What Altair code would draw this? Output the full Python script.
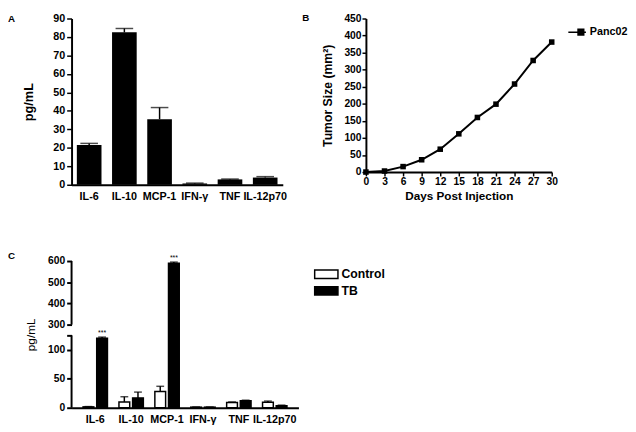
import altair as alt
import pandas as pd

FONT = "Liberation Sans"

# ---------------- data ----------------
cytokines = ["IL-6", "IL-10", "MCP-1", "IFN-γ", "TNF", "IL-12p70"]
a_mean = [21.5, 82.5, 35.5, 0.7, 2.9, 3.9]
a_upper = [22.4, 84.6, 41.8, 0.9, 3.1, 4.4]

days = [0, 3, 6, 9, 12, 15, 18, 21, 24, 27, 30]
tumor_size = [0, 3, 16, 36, 67, 112, 160, 199, 258, 327, 381]

groups = ["Control", "TB"]
c_control_mean = [1.5, 10, 28, 1, 9, 9.5]
c_control_upper = [2, 19, 37, 1.3, 10, 11.5]
c_tb_mean = [120, 17, 590, 1, 12, 3.5]
c_tb_upper = [122, 27, 595, 1.3, 13, 4.5]
c_tb_stars = ["***", "", "***", "", "", ""]

a_ticks = [0, 10, 20, 30, 40, 50, 60, 70, 80, 90]
b_yticks = [0, 50, 100, 150, 200, 250, 300, 350, 400, 450]
c_ticks = [0, 50, 100, 125, 300, 400, 500, 600]
c_break_lo = [0, 300]
c_break_hi = [125, 600]

# ---------------- tables ----------------
dfA = pd.DataFrame({"cytokine": cytokines, "mean": a_mean, "upper": a_upper})
dfB = pd.DataFrame({"day": days, "size": tumor_size, "series": ["Panc02"] * len(days)})
rows = []
for i, c in enumerate(cytokines):
    rows.append({"cytokine": c, "group": "Control", "mean": c_control_mean[i],
                 "upper": c_control_upper[i], "star": ""})
    rows.append({"cytokine": c, "group": "TB", "mean": c_tb_mean[i],
                 "upper": c_tb_upper[i], "star": c_tb_stars[i]})
dfC = pd.DataFrame(rows)
dfSeg = pd.DataFrame({"lo": c_break_lo, "hi": c_break_hi})

axis_common = dict(labelFont=FONT, labelFontWeight="bold", labelColor="black",
                   titleFont=FONT, titleColor="black", domainColor="black",
                   tickColor="black", grid=False, labelOverlap=False, labelFlush=False)


def letter(t, dx, dy):
    return alt.Chart(pd.DataFrame({"t": [t]})).mark_text(
        font=FONT, fontWeight="bold", fontSize=10, align="left", baseline="top",
        color="black").encode(text="t:N", x=alt.value(dx), y=alt.value(dy))


# ---------------- panel A ----------------
scaleXA = alt.Scale(paddingInner=0.3, paddingOuter=0.15)
axisXA = alt.Axis(labelAngle=0, ticks=False, domainWidth=2, labelFontSize=11,
                  labelPadding=6, **axis_common)
scaleYA = alt.Scale(domain=[0, 90], nice=False)
axisYA = alt.Axis(values=a_ticks, tickSize=5, tickWidth=1.5, domainWidth=2,
                  labelFontSize=11, labelPadding=2, titleFontSize=13,
                  titleFontWeight="bold", titlePadding=18, **axis_common)


def xA():
    return alt.X("cytokine:N", sort=cytokines, title=None, scale=scaleXA, axis=axisXA)


def yA(field):
    return alt.Y(field, title="pg/mL", scale=scaleYA, axis=axisYA)


barsA = alt.Chart(dfA).mark_bar(color="black").encode(x=xA(), y=yA("mean:Q"))
errA = alt.Chart(dfA).mark_rule(color="black", strokeWidth=1.5).encode(
    x=xA(), y=yA("mean:Q"), y2="upper:Q")
capA = alt.Chart(dfA).mark_tick(color="black", thickness=1.5, size=18).encode(
    x=xA(), y=yA("upper:Q"))
panelA = alt.layer(barsA, errA, capA, letter("A", -65, -4)).properties(width=216, height=170)

# ---------------- panel C ----------------
scaleXC = alt.Scale(paddingInner=0.24, paddingOuter=0.28)
axisXC = alt.Axis(labelAngle=0, ticks=False, domainWidth=2, labelFontSize=11,
                  labelPadding=6, **axis_common)
scaleYC = alt.Scale(domain=[0, 125, 300, 600], range=[150, 76, 65, 0], nice=False, zero=False)
axisYC = alt.Axis(values=c_ticks, labelExpr="datum.value == 125 ? '' : datum.label",
                  domain=False, tickSize=5, tickWidth=2, labelFontSize=10.5,
                  labelPadding=2, titleFontSize=12, titleFontWeight="normal",
                  titlePadding=10, **axis_common)


def xC():
    return alt.X("cytokine:N", sort=cytokines, title=None, scale=scaleXC, axis=axisXC)


def yC(field):
    return alt.Y(field, title="pg/mL", scale=scaleYC, axis=axisYC)


def xoC():
    return alt.XOffset("group:N", sort=groups, scale=alt.Scale(paddingInner=0, paddingOuter=0))


barsC = alt.Chart(dfC).mark_bar(width=11, stroke="black", strokeWidth=1.5).encode(
    x=xC(), xOffset=xoC(), y=yC("mean:Q"),
    fill=alt.Fill("group:N", sort=groups,
                  scale=alt.Scale(domain=groups, range=["white", "black"]),
                  legend=alt.Legend(title=None, orient="none", legendX=251, legendY=4,
                                    padding=0, rowPadding=0,
                                    symbolType="M-1.4,-0.5L1.4,-0.5L1.4,0.5L-1.4,0.5Z",
                                    symbolSize=289, symbolStrokeColor="black",
                                    symbolStrokeWidth=1.5, labelFont=FONT,
                                    labelFontWeight="bold", labelFontSize=12.5,
                                    labelColor="black", labelOffset=6)))
errC = alt.Chart(dfC).mark_rule(color="black", strokeWidth=1.5).encode(
    x=xC(), xOffset=xoC(), y=yC("mean:Q"), y2="upper:Q")
capC = alt.Chart(dfC).mark_tick(color="black", thickness=1.5, size=8).encode(
    x=xC(), xOffset=xoC(), y=yC("upper:Q"))
starC = alt.Chart(dfC).mark_text(font=FONT, fontSize=7, baseline="bottom", dy=-1,
                                 color="black").encode(
    x=xC(), xOffset=xoC(), y=yC("upper:Q"), text="star:N")
segC = alt.Chart(dfSeg).mark_rule(color="black", strokeWidth=2).encode(
    x=alt.value(0), y=yC("lo:Q"), y2="hi:Q")
panelC = alt.layer(barsC, errC, capC, starC, segC, letter("C", -65, -10)).properties(
    width=232, height=150)

# ---------------- panel B ----------------
scaleXB = alt.Scale(domain=[0, 30], nice=False)
axisXB = alt.Axis(values=days, tickSize=4, tickWidth=1.5, domainWidth=2,
                  labelFontSize=10.5, labelPadding=1, titleFontSize=12,
                  titleFontWeight="bold", titlePadding=4, **axis_common)
scaleYB = alt.Scale(domain=[0, 450], nice=False)
axisYB = alt.Axis(values=b_yticks, tickSize=4, tickWidth=1.5, domainWidth=2,
                  labelFontSize=10.5, labelPadding=1, titleFontSize=12.5,
                  titleFontWeight="bold", titlePadding=10, **axis_common)


def xB():
    return alt.X("day:Q", title="Days Post Injection", scale=scaleXB, axis=axisXB)


def yB():
    return alt.Y("size:Q", title="Tumor Size (mm²)", scale=scaleYB, axis=axisYB)


lineB = alt.Chart(dfB).mark_line(strokeWidth=2).encode(
    x=xB(), y=yB(),
    color=alt.Color("series:N", scale=alt.Scale(range=["black"]),
                    legend=alt.Legend(title=None, orient="none", legendX=206, legendY=4,
                                      padding=0,
                                      symbolType="M-1,0L1,0M0.1,-0.33L0.75,-0.33L0.75,0.33L0.1,0.33Z",
                                      symbolSize=324, symbolStrokeColor="black",
                                      symbolFillColor="black", symbolStrokeWidth=1.5,
                                      labelFont=FONT, labelFontWeight="bold",
                                      labelFontSize=11, labelColor="black", labelOffset=3)))
pointsB = alt.Chart(dfB).mark_point(shape="square", filled=True, size=32, opacity=1,
                                    color="black").encode(x=xB(), y=yB())
panelB = alt.layer(lineB, pointsB, letter("B", -65, -5)).properties(width=190, height=157)

chart = alt.concat(panelA, panelB, panelC, columns=2,
                   spacing={"row": 78, "column": 69}, bounds="flush").resolve_scale(
    color="independent", fill="independent").resolve_legend(
    color="independent", fill="independent").properties(
    padding=0, background="white"
).configure_view(stroke=None)

chart.save("out.html", embed_options={"renderer": "svg", "actions": False})
